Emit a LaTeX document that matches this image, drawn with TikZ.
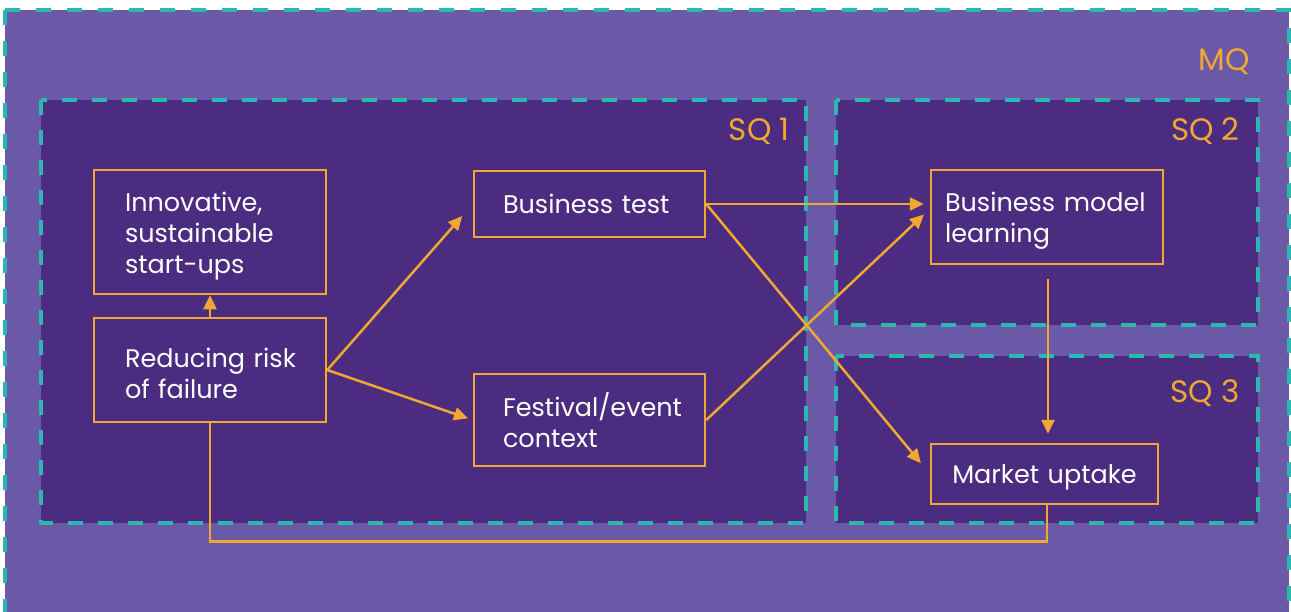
\documentclass[tikz,border=0pt]{standalone}
\usepackage{fontspec}
\setmainfont{Poppins}
\usetikzlibrary{arrows.meta}

\definecolor{mqback}{HTML}{6A59A6}
\definecolor{sqback}{HTML}{4C2C80}
\definecolor{teal}{HTML}{2BB8B0}
\definecolor{amber}{HTML}{F0A830}

\tikzset{
  region/.style={fill=sqback, draw=teal, line width=4pt, dash pattern=on 15pt off 15pt},
  box/.style={draw=amber, line width=2.5pt, text=white, align=left, inner ysep=0pt,
    font=\fontsize{25.5}{31}\selectfont},
  drop/.style={execute at begin node={\rule{0pt}{#1}}},
  arr/.style={draw=amber, line width=2.5pt, -{Triangle[length=14pt, width=13pt]}},
  conn/.style={draw=amber, line width=2.5pt},
  sqlabel/.style={text=amber, anchor=base east, inner sep=0pt, font=\fontsize{31}{36}\selectfont}
}

\begin{document}
\begin{tikzpicture}[x=1pt, y=-1pt]
    \useasboundingbox (0,0) rectangle (1291,611);
    \clip (0,0) rectangle (1291,611);

    % Fondo MQ
    \draw[fill=mqback, draw=teal, line width=4pt, dash pattern=on 15pt off 16pt] (5,10) rectangle (1289,640);
    \node[sqlabel] (mq) at (1250,70) {MQ};

    % Regiones SQ
    \draw[region] (41,100) rectangle (806,523);
    \draw[region] (836,100) rectangle (1258,325);
    \draw[region] (836,356) rectangle (1258,523);
    \node[sqlabel] (sq1) at (790,140) {SQ 1};
    \node[sqlabel] (sq2) at (1240,140) {SQ 2};
    \node[sqlabel] (sq3) at (1240,402) {SQ 3};

    % Cajas
    \node[box, drop=28pt, inner xsep=31pt, text width=170pt, minimum height=124pt] (innov) at (210,232) {Innovative,\\sustainable\\start-ups};
    \node[box, drop=27pt, inner xsep=31pt, text width=170pt, minimum height=104pt] (risk) at (210,370) {\mbox{Reducing risk}\\of failure};
    \node[box, inner xsep=29pt, text width=173pt, minimum height=66pt] (test) at (589.5,204) {Business test};
    \node[box, drop=21pt, inner xsep=29pt, text width=173pt, minimum height=92pt] (fest) at (589.5,420) {Festival/event\\context};
    \node[box, drop=27pt, inner xsep=14pt, text width=204pt, minimum height=94pt] (bml) at (1047,217) {Business model\\learning};
    \node[box, drop=25pt, align=center, inner xsep=10pt, text width=207pt, minimum height=60pt] (market) at (1044.5,474) {Market uptake};

    % Flechas
    \draw[arr] (risk.north) -- (innov.south);
    \draw[arr, shorten >=16pt] (risk.east) -- (test.west);
    \draw[arr, shorten >=5pt] (risk.east) -- (fest.west);
    \draw[arr, shorten >=6pt] (test.east) -- (test.east -| bml.west);
    \draw[arr, shorten >=14pt] (test.east) -- (market.west);
    \draw[arr, shorten >=8pt] (fest.east) -- ([yshift=8pt]bml.west);
    \draw[arr, shorten <=14pt, shorten >=9pt] ([xshift=1pt]bml.south) -- ([xshift=1pt]bml.south |- market.north);

    % Retorno
    \draw[conn] (market.south -| bml.south) -- ++(0,36) -| (risk.south);
\end{tikzpicture}
\end{document}
